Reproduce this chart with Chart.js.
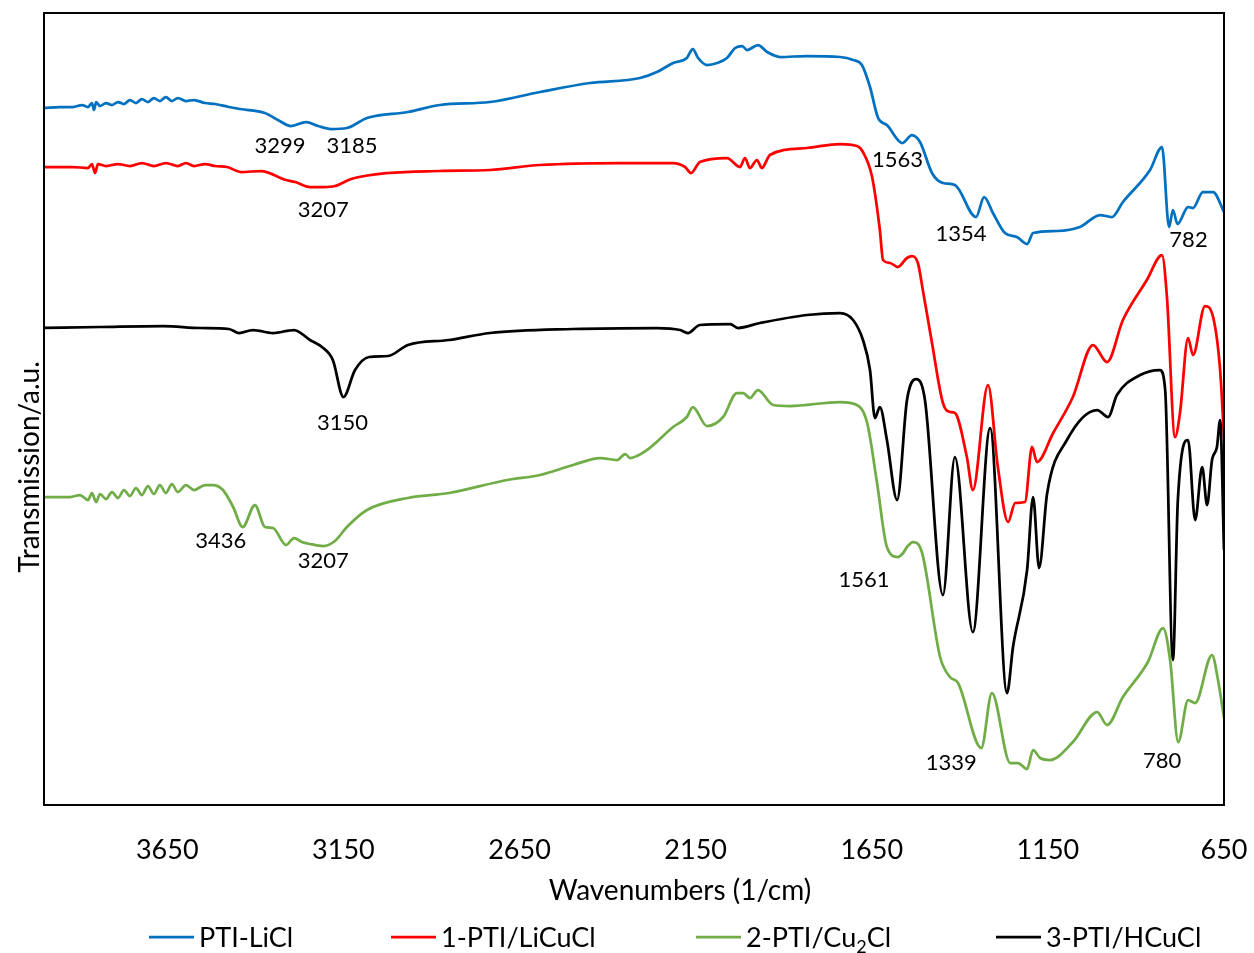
<!DOCTYPE html>
<html>
<head>
<meta charset="utf-8">
<title>FTIR spectra</title>
<script src="https://cdn.jsdelivr.net/npm/chart.js@4.4.1/dist/chart.umd.min.js"></script>
<style>
  html, body { margin: 0; padding: 0; background: #fff; }
  #wrap { width: 1254px; height: 953px; }
</style>
</head>
<body>
<div id="wrap"><canvas id="chart" width="1254" height="953"></canvas></div>
<script>
// wavenumber axis (1/cm), runs high -> low
const wn_ticks = [3650, 3150, 2650, 2150, 1650, 1150, 650];
const wn_min = 650, wn_max = 4000;
const t_max = 79.2; // transmission, a.u.

const series_names = ['PTI-LiCl', '1-PTI/LiCuCl', '2-PTI/Cu₂Cl', '3-PTI/HCuCl'];
const series_colors = ['#0070C0', '#FF0000', '#70AD47', '#000000'];

// PTI-LiCl
const licl_wn = [4000, 3955, 3918, 3892, 3875, 3864, 3858, 3852, 3841, 3824, 3807, 3790, 3773, 3756, 3739, 3722, 3705, 3688, 3671, 3654,
    3637, 3620, 3597, 3574, 3543, 3514, 3475, 3443, 3373, 3336, 3299, 3256, 3222,
    3185, 3140, 3083, 2967, 2876, 2734, 2592, 2450, 2308, 2260, 2214, 2175, 2158, 2143, 2118, 2089, 2061, 2038, 2018, 2004,
    1973, 1947, 1910, 1834, 1740, 1703, 1678, 1655, 1632, 1607, 1563, 1536, 1513, 1479, 1448, 1414, 1354, 1331, 1306, 1272,
    1238, 1209, 1192, 1124, 1059, 1002, 968, 937, 860, 826, 806, 795, 782, 752, 738, 710, 681, 650];
const licl_t = [69.7, 69.8, 69.8, 70.0, 69.8, 70.2, 69.5, 70.3, 69.9, 70.2, 70.0, 70.3, 70.1, 70.5, 70.2, 70.6, 70.3, 70.7, 70.4, 70.8,
    70.4, 70.7, 70.4, 70.5, 70.2, 70.1, 69.8, 69.6, 69.2, 68.5, 67.9, 68.3, 67.9,
    67.6, 67.7, 68.7, 69.3, 70.0, 70.3, 71.3, 72.2, 72.7, 73.3, 74.2, 74.7, 75.6, 74.7, 74.0, 74.2, 74.7, 75.7, 75.9, 75.5,
    76.0, 75.3, 74.8, 74.9, 74.8, 74.5, 74.0, 71.8, 68.7, 68.0, 66.2, 67.0, 66.3, 63.2, 62.2, 62.0, 58.8, 60.8, 59.2, 57.2,
    56.8, 56.1, 57.2, 57.4, 57.8, 59.0, 58.8, 60.3, 63.5, 65.8, 57.8, 59.5, 58.1, 59.8, 59.7, 61.3, 61.3, 59.3];

// 1-PTI/LiCuCl
const licucl_wn = [4000, 3918, 3875, 3864, 3855, 3847, 3824, 3790, 3756, 3722, 3688, 3654, 3620, 3597, 3574, 3543, 3514, 3480, 3441,
    3384, 3313, 3287, 3245, 3207, 3174, 3128,
    3023, 2876, 2734, 2592, 2365, 2214, 2180, 2163, 2138, 2061, 2024, 2010, 1996, 1976, 1962, 1939, 1834, 1740, 1692, 1675,
    1649, 1627, 1618, 1598, 1576, 1550, 1536, 1519, 1505, 1479, 1448, 1428, 1414, 1380, 1363, 1320, 1292, 1263, 1243, 1215,
    1195, 1181, 1135, 1079, 1022, 982, 937, 869, 826, 812, 789, 775, 752, 738, 704, 681, 661, 650];
const licucl_t = [63.8, 63.8, 63.7, 64.1, 63.2, 64.1, 63.9, 64.1, 63.9, 64.2, 63.9, 64.2, 63.9, 64.2, 63.9, 64.1, 63.9, 63.8, 63.3,
    63.4, 62.5, 62.3, 61.8, 61.8, 61.9, 62.6,
    63.2, 63.4, 63.5, 64.0, 64.2, 64.2, 63.8, 63.2, 64.3, 64.7, 63.8, 64.7, 63.7, 64.5, 63.7, 65.0, 65.7, 66.1, 65.9, 65.3,
    62.8, 57.5, 54.5, 54.2, 53.8, 54.7, 54.9, 54.2, 51.5, 46.2, 40.2, 39.3, 39.2, 34.8, 31.5, 42.0, 33.8, 28.3, 30.2, 30.3,
    35.8, 34.3, 37.2, 40.8, 46.0, 44.3, 48.5, 52.5, 55.0, 50.8, 36.8, 39.2, 46.7, 45.0, 49.9, 48.8, 43.5, 36.8];

// 2-PTI/Cu2Cl
const cu2cl_wn = [4000, 3926, 3898, 3875, 3864, 3852, 3841, 3824, 3807, 3790, 3773, 3756, 3739, 3722, 3705, 3688, 3671, 3654, 3637, 3620,
    3597, 3574, 3543, 3520, 3492, 3463, 3436, 3401, 3373, 3350,
    3313, 3290, 3268, 3245, 3207, 3174, 3140, 3083, 2967, 2850, 2685, 2592, 2498, 2421, 2373, 2350, 2336, 2288, 2214, 2175,
    2158, 2118, 2072, 2033, 2015, 1996, 1973, 1930, 1882, 1740, 1692, 1663, 1635, 1607, 1576, 1561, 1550, 1533, 1507, 1456,
    1428, 1405, 1339, 1309, 1257, 1235, 1209, 1192, 1172, 1144, 1079, 1010, 982, 937, 866, 823, 803, 780, 752, 732,
    684, 667, 650];
const cu2cl_t = [30.8, 30.8, 31.0, 30.5, 31.2, 30.3, 31.1, 30.6, 31.3, 30.7, 31.5, 30.9, 31.7, 31.0, 31.9, 31.1, 32.0, 31.2, 32.1, 31.3,
    32.0, 31.5, 32.0, 32.0, 31.5, 29.8, 27.8, 30.0, 27.8, 27.7,
    26.0, 26.7, 26.3, 26.1, 25.9, 26.4, 27.8, 29.5, 30.7, 31.2, 32.5, 33.0, 34.0, 34.7, 34.5, 35.1, 34.7, 35.5, 37.8, 38.8,
    39.8, 37.9, 38.8, 41.2, 41.2, 40.7, 41.5, 40.0, 39.9, 40.3, 40.0, 38.2, 32.2, 25.8, 24.8, 25.2, 25.8, 26.3, 25.2, 14.8,
    12.8, 12.2, 5.7, 11.2, 4.2, 4.2, 3.6, 5.5, 4.7, 4.5, 6.3, 9.3, 8.0, 10.8, 14.3, 17.7, 14.5, 6.3, 10.5, 10.2,
    15.0, 12.5, 8.7];

// 3-PTI/HCuCl
const hcucl_wn = [4000, 3841, 3662, 3557, 3475, 3446, 3407, 3350, 3290, 3245, 3211, 3180, 3150, 3117, 3077, 3023, 2967, 2850, 2734, 2498,
    2260, 2194, 2172, 2138, 2052, 2030, 1967, 1834, 1740, 1703, 1675, 1655, 1641, 1627, 1607, 1578, 1550, 1524, 1499, 1448,
    1414, 1363, 1314, 1266, 1249, 1209, 1192, 1175, 1152, 1096, 1010, 979, 954, 888, 832, 817, 795, 781, 752, 732,
    712, 698, 684, 670, 661, 650];
const hcucl_t = [47.7, 47.8, 47.9, 47.7, 47.6, 47.2, 47.5, 47.2, 47.5, 46.5, 45.8, 44.5, 40.8, 43.5, 44.8, 44.9, 46.0, 46.5, 47.2, 47.6,
    47.7, 47.5, 47.2, 48.0, 48.1, 47.7, 48.2, 49.0, 49.2, 48.5, 46.5, 43.5, 38.7, 39.8, 36.5, 30.5, 40.5, 42.6, 40.5, 21.0,
    34.8, 17.3, 37.7, 11.2, 15.8, 23.5, 30.8, 23.7, 31.2, 36.5, 39.5, 38.8, 41.0, 43.0, 43.5, 41.5, 14.5, 30.5, 36.5, 28.5,
    33.8, 30.0, 34.5, 35.8, 38.5, 25.5];

// peak annotations: text is the wavenumber, level = baseline in a.u., dx = nudge in px
const peaks = [
    {text: '3299', level: 65.2, dx: -11},
    {text: '3185', level: 65.2, dx: 21},
    {text: '3207', level: 58.8, dx: 0},
    {text: '3150', level: 37.5, dx: -1},
    {text: '3436', level: 25.7, dx: -22},
    {text: '3207', level: 23.7, dx: 0},
    {text: '1563', level: 63.8, dx: -5},
    {text: '1354', level: 56.4, dx: -15},
    {text: '782', level: 55.8, dx: 11},
    {text: '1561', level: 21.8, dx: -39},
    {text: '1339', level: 3.5, dx: -30},
    {text: '780', level: 3.7, dx: -16}
];

const FONT = "Lato, 'Open Sans', sans-serif";
const TEXT_COLOR = '#000';

const toPoints = (wn, t) => wn.map((w, i) => ({x: w, y: t[i]}));
const spectra = [
    toPoints(licl_wn, licl_t),
    toPoints(licucl_wn, licucl_t),
    toPoints(cu2cl_wn, cu2cl_t),
    toPoints(hcucl_wn, hcucl_t)
];

// draws text, turning unicode subscript digits into small lowered digits
function drawRich(ctx, str, x, y, size) {
    const subs = '₀₁₂₃₄₅₆₇₈₉';
    let cx = x;
    let buf = '';
    const flush = () => {
        if (!buf) return;
        ctx.font = `${size}px ${FONT}`;
        ctx.fillText(buf, cx, y);
        cx += ctx.measureText(buf).width;
        buf = '';
    };
    for (const ch of str) {
        const k = subs.indexOf(ch);
        if (k < 0) { buf += ch; continue; }
        flush();
        const s = Math.round(size * 0.65);
        ctx.font = `${s}px ${FONT}`;
        ctx.fillText(String(k), cx, y + size * 0.22);
        cx += ctx.measureText(String(k)).width;
    }
    flush();
}

const decor = {
    id: 'decor',
    afterDatasetsDraw(chart) {
        const {ctx, chartArea: a, scales: {x, y}} = chart;
        ctx.save();
        // plot frame
        ctx.strokeStyle = '#000';
        ctx.lineWidth = 2;
        ctx.strokeRect(a.left, a.top, a.right - a.left, a.bottom - a.top);

        // peak labels
        ctx.fillStyle = TEXT_COLOR;
        ctx.font = `22px ${FONT}`;
        ctx.textAlign = 'center';
        ctx.textBaseline = 'alphabetic';
        peaks.forEach(p => {
            ctx.fillText(p.text, x.getPixelForValue(+p.text) + p.dx, y.getPixelForValue(p.level));
        });
        ctx.restore();
    },
    afterDraw(chart) {
        const ctx = chart.ctx;
        ctx.save();
        ctx.fillStyle = TEXT_COLOR;
        ctx.textBaseline = 'alphabetic';

        // axis titles
        ctx.font = `28px ${FONT}`;
        ctx.textAlign = 'center';
        ctx.fillText('Wavenumbers (1/cm)', 680, 900);
        ctx.save();
        ctx.translate(39, 467);
        ctx.rotate(-Math.PI / 2);
        ctx.fillText('Transmission/a.u.', 0, 0);
        ctx.restore();

        // legend
        const legend_x = [149, 391, 696, 996];
        ctx.textAlign = 'left';
        chart.data.datasets.forEach((ds, i) => {
            const x0 = legend_x[i];
            ctx.strokeStyle = ds.borderColor;
            ctx.lineWidth = 2.75;
            ctx.beginPath();
            ctx.moveTo(x0, 937);
            ctx.lineTo(x0 + 45, 937);
            ctx.stroke();
            drawRich(ctx, ds.label, x0 + 50, 947, 27);
        });
        ctx.restore();
    }
};

const chart = new Chart(document.getElementById('chart'), {
    type: 'line',
    data: {
        datasets: spectra.map((pts, i) => ({
            label: series_names[i],
            data: pts,
            borderColor: series_colors[i],
            backgroundColor: series_colors[i],
            borderWidth: 2.75,
            pointRadius: 0,
            cubicInterpolationMode: 'monotone',
            fill: false,
            order: spectra.length - 1 - i
        }))
    },
    plugins: [decor],
    options: {
        responsive: false,
        animation: false,
        devicePixelRatio: 1,
        events: [],
        layout: {
            padding: {left: 44, right: 30, top: 13, bottom: 0}
        },
        plugins: {
            legend: {display: false},
            title: {display: false},
            tooltip: {enabled: false}
        },
        scales: {
            x: {
                type: 'linear',
                reverse: true,
                min: wn_min,
                max: wn_max,
                afterBuildTicks: axis => {
                    axis.ticks = wn_ticks.map(v => ({value: v}));
                },
                afterFit: axis => {
                    axis.height = 148;
                    axis.paddingLeft = 0;
                    axis.paddingRight = 0;
                },
                grid: {display: false, drawTicks: false},
                border: {display: false},
                ticks: {
                    font: {family: FONT, size: 27},
                    color: TEXT_COLOR,
                    padding: 29,
                    maxRotation: 0,
                    autoSkip: false,
                    callback: v => String(v)
                }
            },
            y: {
                display: false,
                min: 0,
                max: t_max
            }
        }
    }
});
</script>
</body>
</html>
